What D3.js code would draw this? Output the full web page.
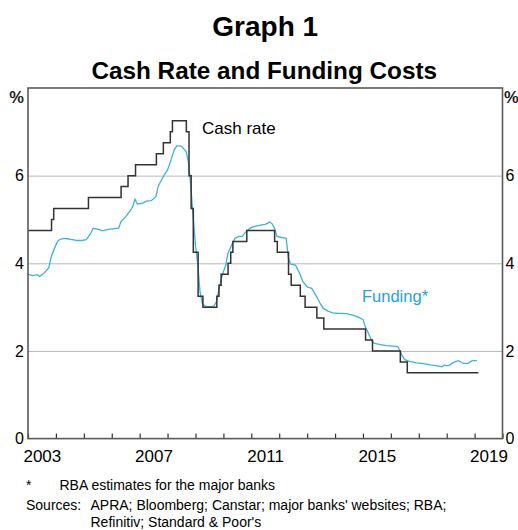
<!DOCTYPE html>
<html><head><meta charset="utf-8">
<script src="https://cdn.jsdelivr.net/npm/d3@7"></script>
<style>
body{margin:0;background:#fff}
svg{display:block}
text{font-family:Arial,"Liberation Sans",Helvetica,sans-serif}
</style>
</head><body>
<svg id="c" width="518" height="530"></svg>
<script>
// ---- Data ----
const cashDates = ["2003-01-01","2003-11-05","2003-12-03","2005-03-02","2006-05-03","2006-08-02","2006-11-08",
  "2007-08-08","2007-11-07","2008-02-06","2008-03-05","2008-09-03","2008-10-08","2008-11-05","2008-12-03",
  "2009-02-04","2009-04-08","2009-10-07","2009-11-04","2009-12-02","2010-03-03","2010-04-07","2010-05-05",
  "2010-11-03","2011-11-02","2011-12-07","2012-05-02","2012-06-06","2012-10-03","2012-12-05","2013-05-08",
  "2013-08-07","2015-02-04","2015-05-06","2016-05-04","2016-08-03","2019-02-20"];
const cashValues = [4.75,5.0,5.25,5.5,5.75,6.0,6.25,6.5,6.75,7.0,7.25,7.0,6.0,5.25,4.25,3.25,3.0,3.25,3.5,3.75,
  4.0,4.25,4.5,4.75,4.5,4.25,3.75,3.5,3.25,3.0,2.75,2.5,2.25,2.0,1.75,1.5,1.5];

const fundingDates = ["2003-01","2003-03","2003-05","2003-06","2003-08","2003-10","2003-11","2004-01","2004-02",
  "2004-04","2004-06","2004-08","2004-10","2004-12","2005-02","2005-04","2005-05","2005-07","2005-09","2005-11",
  "2006-02","2006-04","2006-05","2006-07","2006-09","2006-10","2006-11","2006-12","2007-02","2007-04","2007-06",
  "2007-08","2007-09","2007-10","2007-12","2008-01","2008-02","2008-04","2008-05","2008-06","2008-07","2008-09",
  "2008-10","2008-11","2008-12","2009-01","2009-02","2009-03","2009-04","2009-05","2009-06","2009-08","2009-09",
  "2009-10","2009-11","2009-12","2010-01","2010-02","2010-03","2010-05","2010-06","2010-08","2010-09","2010-11",
  "2011-01","2011-03","2011-05","2011-07","2011-09","2011-10","2011-11","2011-12","2012-01","2012-04","2012-05",
  "2012-06","2012-08","2012-09","2012-10","2012-11","2013-01","2013-03","2013-05","2013-06","2013-07","2013-08",
  "2013-10","2013-12","2014-02","2014-06","2014-09","2014-11","2015-01","2015-02","2015-03","2015-04","2015-05",
  "2015-06","2015-08","2015-11","2016-02","2016-04","2016-05","2016-06","2016-07","2016-09","2016-12","2017-03",
  "2017-06","2017-09","2017-11","2017-12","2018-01","2018-02","2018-04","2018-06","2018-08","2018-10","2018-12",
  "2019-02"];
const fundingValues = [3.75,3.72,3.74,3.70,3.78,3.90,4.15,4.42,4.52,
  4.57,4.56,4.54,4.52,4.52,4.54,4.68,4.80,4.78,4.74,4.77,
  4.79,4.80,4.95,5.06,5.20,5.29,5.46,5.35,5.37,5.42,5.43,
  5.52,5.76,5.86,6.05,6.13,6.28,6.60,6.68,6.68,6.67,6.55,
  6.30,5.75,5.06,4.40,3.95,3.35,3.08,3.03,3.01,3.01,3.03,
  3.12,3.39,3.62,3.81,3.96,4.23,4.46,4.57,4.62,4.61,4.74,
  4.82,4.85,4.87,4.89,4.94,4.90,4.80,4.62,4.60,4.57,4.11,
  3.98,3.96,3.85,3.75,3.60,3.46,3.43,3.25,3.15,3.05,2.97,
  2.91,2.87,2.86,2.85,2.81,2.77,2.72,2.55,2.45,2.33,2.22,
  2.17,2.15,2.12,2.11,2.10,2.00,1.88,1.80,1.76,1.73,1.71,
  1.68,1.66,1.64,1.68,1.66,1.67,1.74,1.78,1.72,1.71,1.78,
  1.78];

const yTicks = [0, 2, 4, 6];
const gridValues = [2, 4, 6];
const yearLabels = [2003, 2007, 2011, 2015, 2019];

// ---- Layout ----
const svg = d3.select("#c");
const L = 28, R = 502.5, T = 88, B = 438.6;
const font = 'Arial,"Liberation Sans",Helvetica,sans-serif';

const x = d3.scaleTime().domain([new Date(2003,0,1), new Date(2020,0,1)]).range([L, R]);
const y = d3.scaleLinear().domain([0, 8]).range([B, T]);

const pDay = d3.timeParse("%Y-%m-%d");
const pMon = d3.timeParse("%Y-%m");
const cash = cashDates.map((d,i) => ({d: pDay(d), v: cashValues[i]}));
const funding = fundingDates.map((d,i) => ({d: pMon(d), v: fundingValues[i]}));

// Titles
const cx = (L + R) / 2;
svg.append("text").attr("x", cx).attr("y", 36).attr("text-anchor","middle")
  .attr("font-size", 28).attr("font-weight","bold").text("Graph 1");
svg.append("text").attr("x", cx - 1).attr("y", 79).attr("text-anchor","middle")
  .attr("font-size", 24.3).attr("font-weight","bold").text("Cash Rate and Funding Costs");

// Gridlines
const grid = svg.append("g").attr("transform", `translate(${L},0)`)
  .call(d3.axisLeft(y).tickValues(gridValues).tickSize(-(R - L)).tickFormat(""));
grid.select(".domain").remove();
grid.selectAll("line").attr("stroke", "#b9b9b9").attr("stroke-width", 1);

// Y axis labels
const yl = svg.append("g").attr("transform", `translate(${L},0)`)
  .call(d3.axisLeft(y).tickValues(yTicks).tickSize(0).tickPadding(4).tickFormat(d3.format("d")));
yl.select(".domain").remove();
yl.selectAll("text").attr("font-size", 16).attr("font-family", font).attr("fill","#000");
const yr = svg.append("g").attr("transform", `translate(${R},0)`)
  .call(d3.axisRight(y).tickValues(yTicks).tickSize(0).tickPadding(3).tickFormat(d3.format("d")));
yr.select(".domain").remove();
yr.selectAll("text").attr("font-size", 16).attr("font-family", font).attr("fill","#000");

svg.append("text").attr("x", L - 4).attr("y", 103).attr("text-anchor","end")
  .attr("font-size", 16.5).attr("font-weight","bold").attr("fill","#222").text("%");
svg.append("text").attr("x", R + 1.5).attr("y", 103).attr("text-anchor","start")
  .attr("font-size", 16.5).attr("font-weight","bold").attr("fill","#222").text("%");

// X axis ticks (inward)
const xt = svg.append("g").attr("transform", `translate(0,${B})`)
  .call(d3.axisBottom(x).ticks(d3.timeYear.every(1)).tickSize(-5).tickFormat(""));
xt.select(".domain").remove();
xt.selectAll("line").attr("stroke", "#333").attr("stroke-width", 1.2);

// X labels at mid-year
const xl = svg.append("g").attr("transform", `translate(0,${B})`)
  .call(d3.axisBottom(x).tickValues(yearLabels.map(yv => new Date(yv, 6, 1)))
    .tickSize(0).tickPadding(11).tickFormat(d3.timeFormat("%Y")));
xl.select(".domain").remove();
xl.selectAll("text").attr("font-size", 17).attr("font-family", font).attr("fill","#000");

// Lines
svg.append("path").datum(funding)
  .attr("fill","none").attr("stroke","#3eb1e6").attr("stroke-width",1.3)
  .attr("d", d3.line().x(d => x(d.d)).y(d => y(d.v)).curve(d3.curveLinear));
svg.append("path").datum(cash)
  .attr("fill","none").attr("stroke","#333").attr("stroke-width",1.5)
  .attr("d", d3.line().x(d => x(d.d)).y(d => y(d.v)).curve(d3.curveStepAfter));

// Frame
svg.append("rect").attr("x", L).attr("y", T).attr("width", R - L).attr("height", B - T)
  .attr("fill","none").attr("stroke","#5a5a5a").attr("stroke-width",1.6);

// Series labels
svg.append("text").attr("x", 202).attr("y", 134).attr("font-size", 17).attr("fill","#000").text("Cash rate");
svg.append("text").attr("x", 362).attr("y", 301.5).attr("font-size", 16.5).attr("fill","#1ea2df").text("Funding*");

// Footnotes
const fn = svg.append("g").attr("font-size", 14).attr("fill","#000");
fn.append("text").attr("x", 26).attr("y", 490).text("*");
fn.append("text").attr("x", 59.5).attr("y", 489.5).text("RBA estimates for the major banks");
fn.append("text").attr("x", 26).attr("y", 509.5).text("Sources:");
fn.append("text").attr("x", 90.5).attr("y", 509.5).text("APRA; Bloomberg; Canstar; major banks' websites; RBA;");
fn.append("text").attr("x", 90.5).attr("y", 527).text("Refinitiv; Standard & Poor's");
</script>
</body></html>
